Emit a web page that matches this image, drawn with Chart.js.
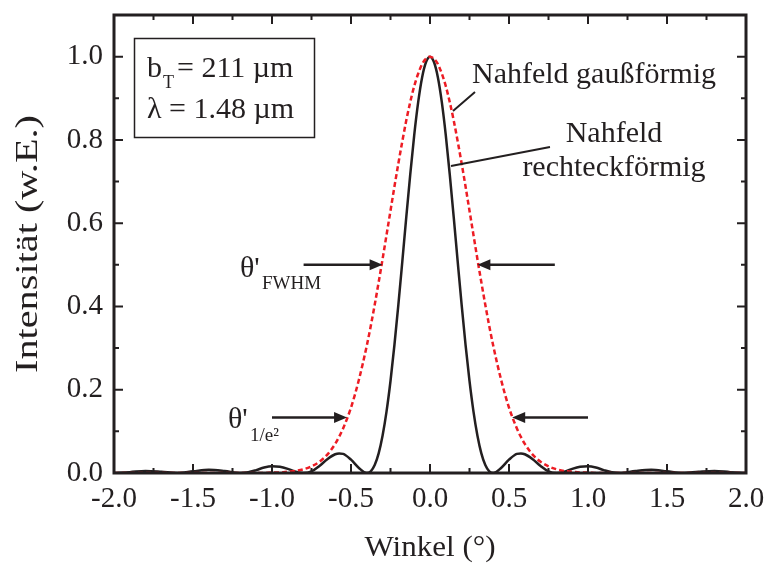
<!DOCTYPE html>
<html><head><meta charset="utf-8">
<script src="https://cdn.jsdelivr.net/npm/chart.js@4/dist/chart.umd.min.js"></script>
<style>html,body{margin:0;padding:0;background:#fff}#wrap{width:767px;height:563px}</style>
</head><body><div id="wrap"><canvas id="c" width="767" height="563"></canvas></div>
<script>
// Angle (°)
const angles = [-2.0,-1.9,-1.8,-1.7,-1.6,-1.5,-1.4,-1.3,-1.2,-1.15,-1.1,-1.05,-1.0,-0.95,-0.9,-0.85,-0.8,
  -0.75,-0.7,-0.65,-0.6,-0.575,-0.55,-0.5,-0.45,-0.4,
  -0.375,-0.35,-0.325,-0.3,-0.275,-0.25,-0.225,-0.2,-0.175,-0.15,-0.125,-0.1,-0.075,-0.05,-0.025,
  0,
  0.025,0.05,0.075,0.1,0.125,0.15,0.175,0.2,0.225,0.25,0.275,0.3,0.325,0.35,0.375,
  0.4,0.45,0.5,0.55,0.575,0.6,0.65,0.7,0.75,
  0.8,0.85,0.9,0.95,1.0,1.05,1.1,1.15,1.2,1.3,1.4,1.5,1.6,1.7,1.8,1.9,2.0];
// Nahfeld rechteckförmig (solid black)
const rectIntensity = [0,0.002,0.005,0.003,0,0.004,0.008,0.005,0,0.002,0.007,0.013,0.016,0.015,0.010,0.003,0,
  0.004,0.017,0.033,0.045,0.047,0.046,0.032,0.012,0,
  0.004,0.019,0.047,0.090,0.148,0.221,0.308,0.405,0.509,0.615,0.717,0.811,0.890,0.950,0.987,
  1.0,
  0.987,0.950,0.890,0.811,0.717,0.615,0.509,0.405,0.308,0.221,0.148,0.090,0.047,0.019,0.004,
  0,0.012,0.032,0.046,0.047,0.045,0.033,0.017,0.004,
  0,0.003,0.010,0.015,0.016,0.013,0.007,0.002,0,0.005,0.008,0.004,0,0.003,0.005,0.002,0];
// Nahfeld gaußförmig (red dashed)
const gaussIntensity = [0,0,0,0,0,0,0,0,0,0,0,0,0.001,0.001,0.003,0.005,0.009,
  0.016,0.027,0.044,0.070,0.087,0.107,0.157,0.224,0.306,
  0.353,0.404,0.458,0.514,0.572,0.630,0.688,0.744,0.797,0.847,0.891,0.929,0.959,0.982,0.995,
  1.0,
  0.995,0.982,0.959,0.929,0.891,0.847,0.797,0.744,0.688,0.630,0.572,0.514,0.458,0.404,0.353,
  0.306,0.224,0.157,0.107,0.087,0.070,0.044,0.027,0.016,
  0.009,0.005,0.003,0.001,0.001,0,0,0,0,0,0,0,0,0,0,0,0];
const xTicks = [-2.0,-1.5,-1.0,-0.5,0.0,0.5,1.0,1.5,2.0];
const yTicks = [0.0,0.2,0.4,0.6,0.8,1.0];
const xMinorTicks = [-1.75,-1.25,-0.75,-0.25,0.25,0.75,1.25,1.75];
const yMinorTicks = [0.1,0.3,0.5,0.7,0.9];
const fwhmLevel = 0.5, fwhmLeft = [-0.80,-0.30], fwhmRight = [0.30,0.79];
const e2Level = 0.133, e2Left = [-1.0,-0.525], e2Right = [0.52,1.0];
const xTitle = 'Winkel (°)';
const yTitle = 'Intensität (w.E.)';

const INK = '#231f20';
const SERIF = '"Liberation Serif", "Times New Roman", serif';

function arrow(ctx, x1, y, x2) {
  const dir = Math.sign(x2 - x1);
  ctx.beginPath(); ctx.moveTo(x1, y); ctx.lineTo(x2 - dir*10, y); ctx.stroke();
  ctx.beginPath(); ctx.moveTo(x2, y); ctx.lineTo(x2 - dir*13, y - 5.5); ctx.lineTo(x2 - dir*13, y + 5.5); ctx.closePath(); ctx.fill();
}
function stretchedText(ctx, text, cx, cy, rot, targetWidth) {
  ctx.save();
  ctx.translate(cx, cy); ctx.rotate(rot);
  const w = ctx.measureText(text).width;
  ctx.scale(targetWidth / w, 1);
  ctx.textAlign = 'center';
  ctx.fillText(text, 0, 0);
  ctx.restore();
}

const decor = {
  id: 'decor',
  afterDraw(chart) {
    const {ctx, chartArea: a, scales: {x, y}} = chart;
    ctx.save();
    ctx.strokeStyle = INK; ctx.fillStyle = INK;
    // ticks (inward, all four sides)
    ctx.lineWidth = 2;
    const tx = (v, len) => { const p = x.getPixelForValue(v);
      ctx.beginPath(); ctx.moveTo(p, a.bottom); ctx.lineTo(p, a.bottom - len);
      ctx.moveTo(p, a.top); ctx.lineTo(p, a.top + len); ctx.stroke(); };
    const ty = (v, len) => { const p = y.getPixelForValue(v);
      ctx.beginPath(); ctx.moveTo(a.left, p); ctx.lineTo(a.left + len, p);
      ctx.moveTo(a.right, p); ctx.lineTo(a.right - len, p); ctx.stroke(); };
    xTicks.forEach(v => tx(v, 9)); xMinorTicks.forEach(v => tx(v, 5));
    yTicks.forEach(v => ty(v, 9)); yMinorTicks.forEach(v => ty(v, 5));
    // frame
    ctx.lineWidth = 3;
    ctx.strokeRect(a.left, a.top, a.right - a.left, a.bottom - a.top);

    ctx.textBaseline = 'alphabetic';
    // axis titles
    ctx.font = '29px ' + SERIF;
    stretchedText(ctx, xTitle, (a.left + a.right) / 2, 556, 0, 131);
    ctx.font = '32px ' + SERIF;
    stretchedText(ctx, yTitle, 37, (a.top + a.bottom) / 2, -Math.PI / 2, 258);

    // legend box
    ctx.lineWidth = 1.5;
    ctx.strokeRect(134.5, 38.5, 180, 99);
    ctx.textAlign = 'left';
    ctx.font = '30px ' + SERIF;
    ctx.fillText('b', 147, 77);
    ctx.font = '18px ' + SERIF;
    ctx.fillText('T', 163, 88);
    ctx.font = '30px ' + SERIF;
    ctx.fillText('= 211 µm', 177, 77);
    ctx.fillText('λ = 1.48 µm', 147, 118);

    // curve labels
    ctx.fillText('Nahfeld gaußförmig', 472, 83);
    ctx.textAlign = 'center';
    ctx.fillText('Nahfeld', 614, 142);
    ctx.fillText('rechteckförmig', 614, 176);
    ctx.lineWidth = 2;
    ctx.beginPath(); ctx.moveTo(475, 92); ctx.lineTo(453, 111);
    ctx.moveTo(550, 147); ctx.lineTo(451, 166); ctx.stroke();

    // theta labels
    ctx.textAlign = 'left';
    ctx.font = '30px ' + SERIF;
    ctx.fillText("θ'", 240, 277);
    ctx.fillText("θ'", 228, 428);
    ctx.font = '19px ' + SERIF;
    ctx.fillText('FWHM', 262, 289);
    ctx.fillText('1/e²', 250, 441);

    // arrows
    ctx.lineWidth = 2.5;
    const yf = y.getPixelForValue(fwhmLevel), ye = y.getPixelForValue(e2Level);
    arrow(ctx, x.getPixelForValue(fwhmLeft[0]), yf, x.getPixelForValue(fwhmLeft[1]));
    arrow(ctx, x.getPixelForValue(fwhmRight[1]), yf, x.getPixelForValue(fwhmRight[0]));
    arrow(ctx, x.getPixelForValue(e2Left[0]), ye, x.getPixelForValue(e2Left[1]));
    arrow(ctx, x.getPixelForValue(e2Right[1]), ye, x.getPixelForValue(e2Right[0]));
    ctx.restore();
  }
};

new Chart(document.getElementById('c'), {
  type: 'line',
  data: {
    datasets: [
      { label: 'Nahfeld rechteckförmig', data: angles.map((a, i) => ({x: a, y: rectIntensity[i]})),
        borderColor: INK, borderWidth: 2.5, pointRadius: 0, cubicInterpolationMode: 'monotone', order: 2 },
      { label: 'Nahfeld gaußförmig', data: angles.map((a, i) => ({x: a, y: gaussIntensity[i]})),
        borderColor: '#ed1c24', borderWidth: 2.5, borderDash: [5, 3], pointRadius: 0, cubicInterpolationMode: 'monotone', order: 1 }
    ]
  },
  options: {
    responsive: false, animation: false, devicePixelRatio: 1,
    layout: { padding: { left: 0, right: 21, top: 15, bottom: 0 } },
    plugins: { legend: { display: false }, tooltip: { enabled: false } },
    scales: {
      x: {
        type: 'linear', min: -2, max: 2,
        afterBuildTicks: s => { s.ticks = xTicks.map(v => ({value: v})); },
        afterFit: s => { s.height = 90; s.paddingLeft = 0; s.paddingRight = 0; s.paddingTop = 0; s.paddingBottom = 0; },
        grid: { display: false, drawTicks: false }, border: { display: false },
        ticks: { autoSkip: false, maxRotation: 0, padding: 9, color: INK,
          font: { family: SERIF, size: 29 }, callback: v => Number(v).toFixed(1) },
        title: { display: false }
      },
      y: {
        type: 'linear', min: 0, max: 1.1,
        afterBuildTicks: s => { s.ticks = yTicks.map(v => ({value: v})); },
        afterFit: s => { s.width = 114; s.paddingLeft = 0; s.paddingRight = 0; s.paddingTop = 0; s.paddingBottom = 0; },
        grid: { display: false, drawTicks: false }, border: { display: false },
        ticks: { padding: 11, color: INK,
          font: { family: SERIF, size: 29, lineHeight: 1 }, callback: v => Number(v).toFixed(1) },
        title: { display: false }
      }
    }
  },
  plugins: [decor]
});
</script>
</body></html>
